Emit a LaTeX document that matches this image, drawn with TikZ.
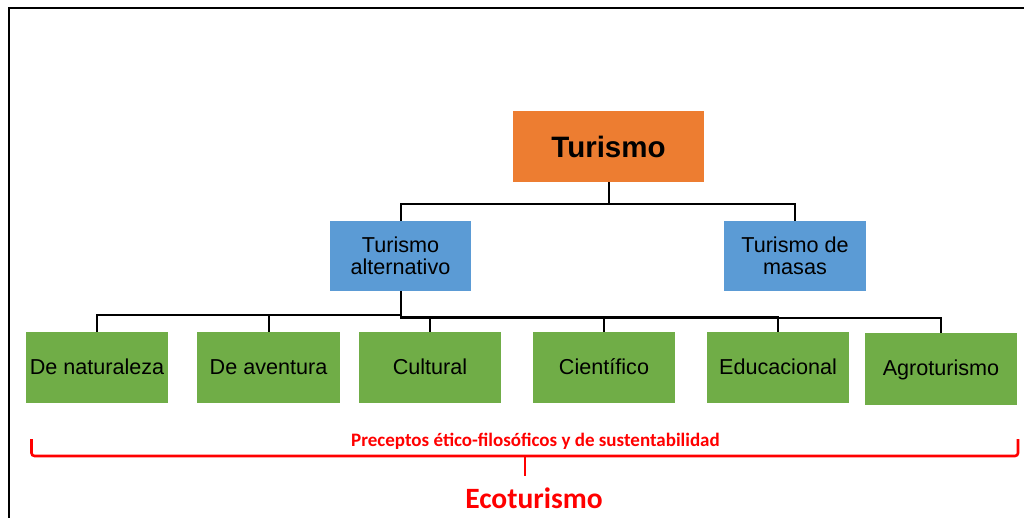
\documentclass[tikz,border=0pt]{standalone}
\usepackage{fontspec}
\setmainfont{Liberation Sans}
\newfontfamily\redfont{Carlito}
\definecolor{orangebox}{HTML}{ED7D31}
\definecolor{bluebox}{HTML}{5B9BD5}
\definecolor{greenbox}{HTML}{70AD47}
\definecolor{redline}{HTML}{FF0000}
\tikzset{
  topbox/.style={rectangle, fill=orangebox, minimum width=191pt, minimum height=71pt, inner sep=0pt, font=\fontsize{29.5}{33}\selectfont\bfseries},
  midbox/.style={rectangle, fill=bluebox, minimum width=141pt, minimum height=70pt, inner sep=0pt, align=center, font=\fontsize{21.6}{22.5}\selectfont},
  leafbox/.style={rectangle, fill=greenbox, minimum width=142pt, minimum height=71pt, inner sep=0pt, text height=16.5pt, text depth=3.5pt, font=\fontsize{21.6}{23}\selectfont},
  conn/.style={draw=black, line width=2pt},
  bracestyle/.style={draw=redline, line width=2.6pt, rounded corners=3pt},
  redtext/.style={text=redline, inner sep=0pt, anchor=base},
}
\begin{document}
\begin{tikzpicture}[x=1pt, y=-1pt]
\useasboundingbox (0,0) rectangle (1024,518);
\fill[white] (0,0) rectangle (1024,518);
% frame (left and top visible)
\draw[line width=2.6pt, black] (9,520) -- (9,8) -- (1026,8);

% nodes
\node[topbox] (T) at (608.5,146.5) {Turismo};
\node[midbox] (alt) at (400.5,256) {Turismo\\alternativo};
\node[midbox, minimum width=142pt] (mas) at (795,256) {Turismo de\\masas};

\node[leafbox] (nat) at (97,367.5) {De naturaleza};
\node[leafbox, minimum width=143pt] (ave) at (268.5,367.5) {De aventura};
\node[leafbox] (cul) at (430,367.5) {Cultural};
\node[leafbox] (cie) at (604,367.5) {Científico};
\node[leafbox] (edu) at (778,367.5) {Educacional};
\node[leafbox, minimum width=152pt, minimum height=72pt] (agr) at (941,369) {Agroturismo};

% connectors
\draw[conn] (T.south) -- ++(0,22) -| (alt.north);
\draw[conn] (T.south) -- ++(0,22) -| (mas.north);
\draw[conn] (alt.south) -- ++(0,24) -| (nat.north);
\draw[conn] (alt.south) -- ++(0,24) -| (ave.north);
\draw[conn] (alt.south) -- ++(0,25.5) -| (cul.north);
\draw[conn] (alt.south) -- ++(0,25.5) -| (cie.north);
\draw[conn] (alt.south) -- ++(0,25.5) -| (edu.north);
\draw[conn] (alt.south) -- ++(0,26.5) -| (agr.north);

% brace
\coordinate (bl) at (31.5,439);
\coordinate (br) at (1018,439);
\coordinate (bc) at (525,456);
\coordinate (bt) at (525,476);
\draw[bracestyle] (bl) -- (31.5,456) -- (1018,456) -- (br);
\draw[draw=redline, line width=2.6pt] (bc) -- (bt);

\node[redtext, font=\redfont\bfseries\fontsize{19}{21}\selectfont] (prec) at (535.5,446.7) {Preceptos ético-filosóficos y de sustentabilidad};
\node[redtext, font=\redfont\bfseries\fontsize{29.5}{33}\selectfont] (eco) at (534,508) {Ecoturismo};
\end{tikzpicture}
\end{document}
